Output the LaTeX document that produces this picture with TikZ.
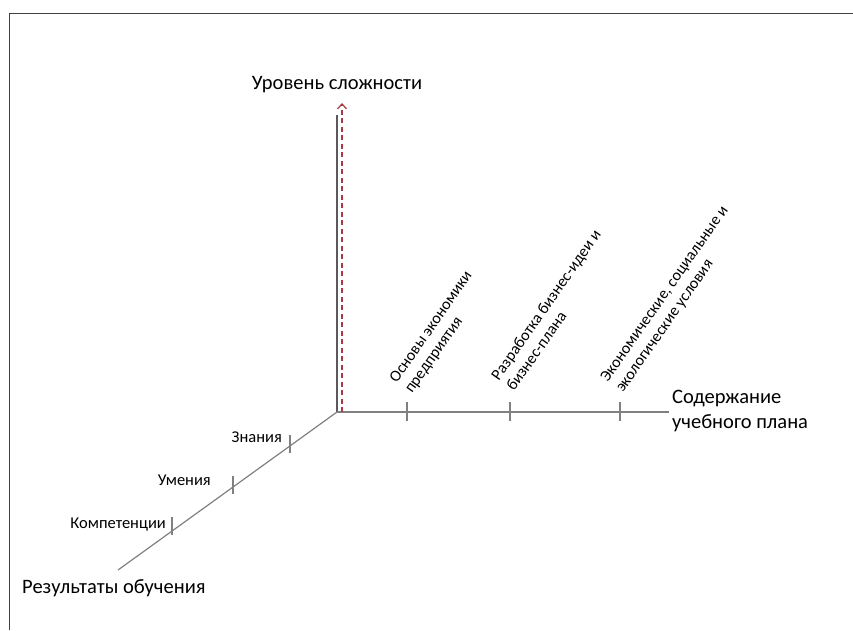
\documentclass[tikz,border=0pt]{standalone}
\usepackage{fontspec}
\setmainfont{Carlito}
\usetikzlibrary{arrows.meta}
\definecolor{axisdark}{HTML}{5A5A5A}
\definecolor{axisgray}{HTML}{808080}
\definecolor{axisred}{HTML}{A83A40}
\definecolor{framegray}{HTML}{404040}
\tikzset{
  axisline/.style={draw=axisgray, line width=1.4pt},
  tickline/.style={draw=axisgray, line width=1.4pt},
  biglabel/.style={font=\fontsize{20.5}{24.5}\selectfont, inner sep=0pt},
  smalllabel/.style={font=\fontsize{16.5}{19}\selectfont, inner sep=0pt},
  rotlabel/.style={font=\fontsize{16}{18.5}\selectfont, inner sep=0pt, align=left, rotate=55, anchor=base west},
}
\begin{document}
\begin{tikzpicture}[x=1pt,y=-1pt]
\useasboundingbox (0,0) rectangle (853,630);
% frame
\coordinate (fr1) at (853,13);
\coordinate (fr2) at (9,13);
\coordinate (fr3) at (9,630);
\draw[framegray, line width=1pt] (fr1) -- (fr2) -- (fr3);
% axes
\coordinate (O) at (337,412);
\coordinate (Vtop) at (337,115);
\coordinate (Hend) at (669,412);
\coordinate (Dend) at (118,570);
\coordinate (Rbot) at (342,412);
\coordinate (Rtop) at (342,103);
\draw[draw=axisdark, line width=1.8pt] (O) -- (Vtop);
\draw[axisline] (O) -- (Hend);
\draw[axisline, line width=1.2pt] (O) -- (Dend);
\draw[axisred, line width=1.4pt, dash pattern=on 5pt off 3.5pt, -{Straight Barb[length=5pt,width=9pt,line width=1.2pt]}] (Rbot) -- (Rtop);
% ticks on horizontal axis
\foreach \n/\x in {t1/407, t2/510, t3/620} {
  \coordinate (\n a) at (\x,402);
  \coordinate (\n b) at (\x,421);
  \draw[tickline] (\n a) -- (\n b);
}
% ticks on diagonal axis
\foreach \n/\x/\y in {d1/290/444, d2/233/485, d3/172/526} {
  \coordinate (\n a) at (\x,\y-9);
  \coordinate (\n b) at (\x,\y+9);
  \draw[tickline] (\n a) -- (\n b);
}
% labels
\node[biglabel, anchor=base] (ylab) at (337,89) {Уровень сложности};
\node[biglabel, anchor=base west, align=left] (xlab) at (672,428) {Содержание\\учебного плана};
\node[biglabel, anchor=base west] (zlab) at (22,593) {Результаты обучения};
\node[smalllabel, anchor=base east] (k1) at (282,442) {Знания};
\node[smalllabel, anchor=base east] (k2) at (211,485) {Умения};
\node[smalllabel, anchor=base east] (k3) at (166,528) {Компетенции};
\node[rotlabel] (c1) at (412,394) {Основы экономики\\предприятия};
\node[rotlabel] (c2) at (514,392) {Разработка бизнес-идеи и\\бизнес-плана};
\node[rotlabel] (c3) at (623,393) {Экономические, социальные и\\экологические условия};
\end{tikzpicture}
\end{document}
